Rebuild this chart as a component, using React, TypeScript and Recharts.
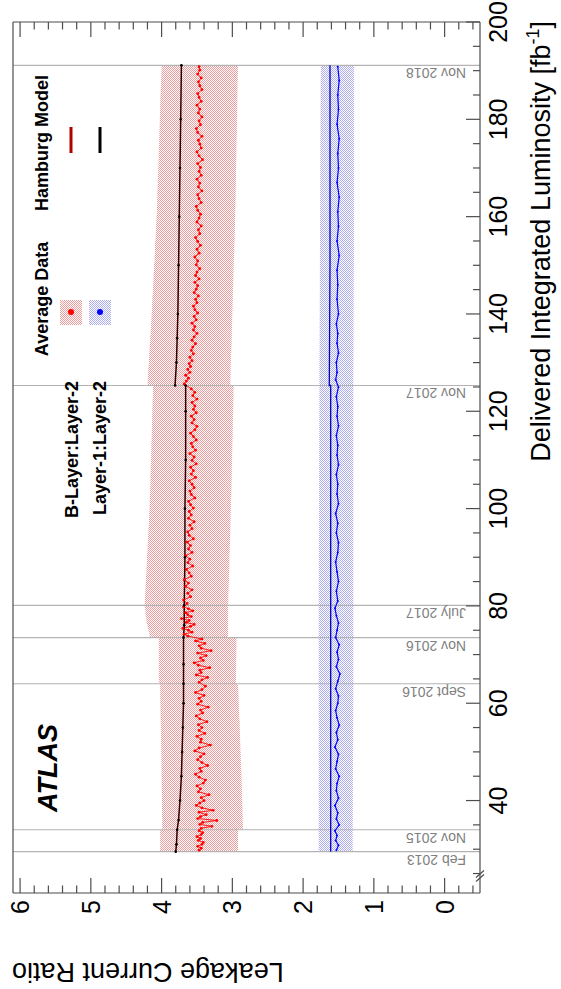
import React from "react";
import {
  ComposedChart,
  Area,
  Line,
  XAxis,
  YAxis,
  ReferenceLine,
  ReferenceDot,
} from "recharts";

const FONT = "'Liberation Sans', Arial, Helvetica, sans-serif";
const FRAME = "#4d4d4d";
const RED = "#ff0000";
const BLUE = "#0000ff";

// axis ticks
const lumTicks = [
  25, 30, 35, 40, 45, 50, 55, 60, 65, 70, 75, 80, 85, 90, 95, 100, 105, 110,
  115, 120, 125, 130, 135, 140, 145, 150, 155, 160, 165, 170, 175, 180, 185,
  190, 195, 200,
];
const ratioTicks = [
  -0.4, -0.2, 0, 0.2, 0.4, 0.6, 0.8, 1, 1.2, 1.4, 1.6, 1.8, 2, 2.2, 2.4, 2.6,
  2.8, 3, 3.2, 3.4, 3.6, 3.8, 4, 4.2, 4.4, 4.6, 4.8, 5, 5.2, 5.4, 5.6, 5.8, 6,
];

// run periods (vertical lines)
const runNames = ["Feb 2013", "Nov 2015", "Sept 2016", "Nov 2016", "July 2017", "Nov 2017", "Nov 2018"];
const runLumis = [29.5, 34.0, 64.0, 73.5, 80.1, 125.3, 191.1];

// uncertainty bands [lumi, low, high]
const bLayerBand = [
  [29.5, 2.92, 4.02], [34.0, 2.92, 4.02],
  [34.0, 2.85, 3.99], [45, 2.87, 4.0], [64.0, 2.92, 4.02],
  [64.0, 2.95, 4.04], [73.5, 2.94, 4.04],
  [73.5, 3.06, 4.16], [76.5, 3.06, 4.21], [80.1, 3.06, 4.24],
  [80.1, 3.06, 4.24], [100, 3.02, 4.17], [125.3, 2.98, 4.12],
  [125.3, 3.03, 4.2], [140, 3.0, 4.14], [160, 2.96, 4.07], [191.1, 2.92, 4.0],
];
const layer1Band = [
  [29.5, 1.3, 1.78], [64.0, 1.29, 1.78], [80.1, 1.29, 1.78],
  [125.3, 1.29, 1.77], [160, 1.28, 1.76], [191.1, 1.28, 1.75],
];

// Hamburg model [lumi, ratio]
const bLayerModelEarly = [
  [29.5, 3.8], [31, 3.79], [34, 3.78], [36, 3.76], [40, 3.74], [45, 3.72],
  [50, 3.71], [55, 3.7], [60, 3.69], [64, 3.69], [68, 3.69], [73.5, 3.69],
  [76, 3.68], [80.1, 3.68], [90, 3.67], [100, 3.67], [110, 3.66], [120, 3.66],
  [125.3, 3.66],
];
const bLayerModelLate = [
  [125.3, 3.81], [130, 3.79], [135, 3.78], [140, 3.77], [150, 3.76],
  [160, 3.75], [170, 3.74], [180, 3.73], [191.1, 3.72],
];
const layer1Model = [
  [29.5, 1.61], [50, 1.61], [80, 1.61], [110, 1.61], [125.3, 1.61],
  [125.3, 1.63], [150, 1.62], [191.1, 1.62],
];

// average data [lumi, ratio]
const bLayerData = [
  [29.8, 3.47], [30.2, 3.44], [30.6, 3.49], [31.0, 3.43], [31.4, 3.41], [31.8, 3.48],
  [32.2, 3.45], [32.6, 3.5], [33.0, 3.44], [33.4, 3.42], [33.8, 3.47],
  [34.3, 3.44], [34.7, 3.29], [35.1, 3.46], [35.5, 3.42], [35.9, 3.22], [36.3, 3.49],
  [36.7, 3.45], [37.1, 3.37], [37.6, 3.47], [38.0, 3.27], [38.5, 3.43], [39.0, 3.51],
  [39.5, 3.46], [40.0, 3.4], [40.6, 3.44], [41.2, 3.33], [41.8, 3.48], [42.4, 3.45],
  [43.0, 3.5], [43.6, 3.41], [44.2, 3.38], [44.8, 3.47], [45.4, 3.52], [46.0, 3.44],
  [46.6, 3.46], [47.2, 3.35], [47.8, 3.43], [48.4, 3.49], [49.0, 3.45], [49.6, 3.4],
  [50.2, 3.53], [50.8, 3.47], [51.4, 3.31], [52.0, 3.45], [52.6, 3.44], [53.2, 3.5],
  [53.8, 3.39], [54.4, 3.47], [55.0, 3.43], [55.6, 3.48], [56.2, 3.36], [56.8, 3.46],
  [57.4, 3.51], [58.0, 3.42], [58.6, 3.45], [59.2, 3.34], [59.8, 3.49], [60.4, 3.44],
  [61.0, 3.47], [61.6, 3.4], [62.2, 3.52], [62.8, 3.43], [63.5, 3.38],
  [64.3, 3.47], [64.8, 3.43], [65.3, 3.35], [65.8, 3.51], [66.3, 3.44], [66.8, 3.46],
  [67.3, 3.32], [67.8, 3.48], [68.3, 3.54], [68.8, 3.41], [69.3, 3.45], [69.8, 3.37],
  [70.3, 3.49], [70.8, 3.3], [71.3, 3.44], [71.8, 3.47], [72.3, 3.39], [72.8, 3.52],
  [73.2, 3.43],
  [73.8, 3.63], [74.2, 3.68], [74.6, 3.57], [75.0, 3.62], [75.4, 3.7], [75.8, 3.59],
  [76.2, 3.54], [76.6, 3.65], [77.0, 3.61], [77.4, 3.72], [77.8, 3.58], [78.2, 3.63],
  [78.6, 3.66], [79.0, 3.56], [79.4, 3.62], [79.8, 3.69],
  [80.5, 3.64], [81.2, 3.69], [81.9, 3.59], [82.6, 3.63], [83.3, 3.57], [84.0, 3.66],
  [84.7, 3.62], [85.4, 3.68], [86.1, 3.58], [86.8, 3.61], [87.5, 3.65], [88.2, 3.56],
  [88.9, 3.63], [89.6, 3.6], [90.3, 3.66], [91.0, 3.57], [91.7, 3.62], [92.4, 3.59],
  [93.1, 3.64], [93.8, 3.55], [94.5, 3.61], [95.2, 3.63], [95.9, 3.57], [96.6, 3.6],
  [97.3, 3.54], [98.0, 3.62], [98.7, 3.58], [99.4, 3.61], [100.1, 3.55], [100.8, 3.59],
  [101.5, 3.62], [102.2, 3.53], [102.9, 3.58], [103.6, 3.6], [104.3, 3.54], [105.0, 3.57],
  [105.7, 3.61], [106.4, 3.52], [107.1, 3.58], [107.8, 3.55], [108.5, 3.59], [109.2, 3.51],
  [109.9, 3.57], [110.6, 3.54], [111.3, 3.6], [112.0, 3.52], [112.7, 3.56], [113.4, 3.58],
  [114.1, 3.51], [114.8, 3.55], [115.5, 3.59], [116.2, 3.53], [116.9, 3.5], [117.6, 3.57],
  [118.3, 3.54], [119.0, 3.58], [119.7, 3.51], [120.4, 3.55], [121.1, 3.53], [121.8, 3.57],
  [122.5, 3.5], [123.2, 3.56], [123.9, 3.53], [124.6, 3.58],
  [125.6, 3.68], [126.2, 3.65], [126.8, 3.62], [127.4, 3.66], [128.0, 3.6], [128.6, 3.63],
  [129.2, 3.59], [129.8, 3.61], [130.4, 3.57], [131.1, 3.6], [131.8, 3.55], [132.5, 3.58],
  [133.2, 3.56], [133.9, 3.52], [134.6, 3.57], [135.3, 3.54], [136.0, 3.5], [136.7, 3.55],
  [137.4, 3.53], [138.1, 3.57], [138.8, 3.51], [139.5, 3.54], [140.2, 3.49], [140.9, 3.53],
  [141.6, 3.55], [142.3, 3.5], [143.0, 3.52], [143.7, 3.48], [144.4, 3.54], [145.1, 3.51],
  [145.8, 3.49], [146.5, 3.53], [147.2, 3.47], [147.9, 3.52], [148.6, 3.5], [149.3, 3.46],
  [150.1, 3.51], [150.9, 3.49], [151.7, 3.53], [152.5, 3.47], [153.3, 3.5], [154.1, 3.45],
  [154.9, 3.49], [155.7, 3.52], [156.5, 3.46], [157.3, 3.48], [158.1, 3.44], [158.9, 3.5],
  [159.7, 3.47], [160.5, 3.45], [161.3, 3.49], [162.1, 3.51], [162.9, 3.44], [163.7, 3.47],
  [164.5, 3.49], [165.3, 3.43], [166.1, 3.48], [166.9, 3.46], [167.7, 3.5], [168.5, 3.44],
  [169.3, 3.47], [170.1, 3.45], [170.9, 3.49], [171.7, 3.42], [172.5, 3.47], [173.3, 3.5],
  [174.1, 3.44], [174.9, 3.46], [175.7, 3.48], [176.5, 3.43], [177.3, 3.49], [178.1, 3.51],
  [178.9, 3.45], [179.7, 3.47], [180.5, 3.43], [181.3, 3.48], [182.1, 3.46], [182.9, 3.5],
  [183.7, 3.44], [184.5, 3.47], [185.3, 3.49], [186.1, 3.43], [186.9, 3.46], [187.7, 3.48],
  [188.5, 3.44], [189.3, 3.49], [190.1, 3.46], [190.8, 3.47],
];
const layer1Data = [
  [29.8, 1.53], [30.8, 1.5], [31.8, 1.54], [32.8, 1.52], [33.8, 1.55], [35.0, 1.49],
  [36.2, 1.53], [37.5, 1.51], [39.0, 1.55], [40.5, 1.5], [42.0, 1.53], [43.5, 1.52],
  [45.0, 1.49], [46.5, 1.54], [48.0, 1.52], [49.5, 1.5], [51.0, 1.55], [52.5, 1.51],
  [54.0, 1.53], [55.5, 1.49], [57.0, 1.52], [58.5, 1.54], [60.0, 1.51], [61.5, 1.5],
  [63.0, 1.54], [64.5, 1.51], [66.0, 1.48], [67.5, 1.53], [69.0, 1.5], [70.5, 1.52],
  [72.0, 1.49], [73.5, 1.54], [75.0, 1.52], [76.5, 1.5], [78.0, 1.53], [79.5, 1.55],
  [81.0, 1.51], [83.0, 1.53], [85.0, 1.5], [87.0, 1.52], [89.0, 1.54], [91.0, 1.51],
  [93.0, 1.5], [95.0, 1.53], [97.0, 1.51], [99.0, 1.54], [101.0, 1.5], [103.0, 1.52],
  [105.0, 1.51], [107.0, 1.53], [109.0, 1.5], [111.0, 1.52], [113.0, 1.51], [115.0, 1.53],
  [117.0, 1.5], [119.0, 1.52], [121.0, 1.51], [123.0, 1.53], [125.0, 1.5], [126.5, 1.54],
  [128.0, 1.52], [130.0, 1.53], [132.0, 1.5], [134.0, 1.52], [136.0, 1.51], [138.0, 1.53],
  [140.0, 1.5], [143.0, 1.52], [146.0, 1.51], [149.0, 1.52], [152.0, 1.49], [155.0, 1.52],
  [158.0, 1.5], [161.0, 1.51], [164.0, 1.49], [167.0, 1.52], [170.0, 1.5], [173.0, 1.51],
  [176.0, 1.49], [179.0, 1.52], [182.0, 1.5], [185.0, 1.51], [188.0, 1.49], [190.8, 1.51],
];

const toPoints = (rows: number[][]) => rows.map(([lum, ratio]) => ({ lum, ratio }));
const toBand = (rows: number[][]) => rows.map(([lum, lo, hi]) => ({ lum, range: [lo, hi] }));

function LumTick(props: any) {
  const { x, y, payload, side } = props;
  const major = payload.value % 20 === 0;
  const len = major ? 14 : 7;
  const dir = side === "top" ? 1 : -1;
  return (
    <g>
      <line x1={x} x2={x} y1={y} y2={y + dir * len} stroke={FRAME} strokeWidth={1.2} />
      {side === "bottom" && major && (
        <text x={x} y={y + 27} textAnchor="middle" fontSize={25} style={{ fontFamily: FONT }} fill="#000">
          {payload.value}
        </text>
      )}
    </g>
  );
}

function RatioTick(props: any) {
  const { x, y, payload, side } = props;
  const major = Number.isInteger(payload.value);
  const len = major ? 15 : 7.5;
  const dir = side === "left" ? 1 : -1;
  return (
    <g>
      <line x1={x} x2={x + dir * len} y1={y} y2={y} stroke={FRAME} strokeWidth={1.2} />
      {side === "left" && major && (
        <text x={x - 7} y={y + 9} textAnchor="end" fontSize={25} style={{ fontFamily: FONT }} fill="#000">
          {payload.value}
        </text>
      )}
    </g>
  );
}

function LumTitle(props: any) {
  const { viewBox } = props;
  const x = viewBox.x + viewBox.width + 1;
  const y = viewBox.y + 70;
  return (
    <text x={x} y={y} textAnchor="end" fontSize={27} style={{ fontFamily: FONT }} fill="#000">
      Delivered Integrated Luminosity [fb
      <tspan fontSize={18} dy={-11}>-1</tspan>
      <tspan dy={11}>]</tspan>
    </text>
  );
}

function RatioTitle(props: any) {
  const { viewBox } = props;
  const x = viewBox.x + 26;
  const y = viewBox.y - 1;
  return (
    <text x={x} y={y} transform={`rotate(-90 ${x} ${y})`} textAnchor="end" fontSize={27} style={{ fontFamily: FONT }} fill="#000">
      Leakage Current Ratio
    </text>
  );
}

function RunLabel(props: any) {
  const { viewBox, value } = props;
  const x = viewBox.x - 3;
  const y = viewBox.y + viewBox.height - 14;
  return (
    <text x={x} y={y} transform={`rotate(-90 ${x} ${y})`} fontSize={14} style={{ fontFamily: FONT }} fill="#808080">
      {value}
    </text>
  );
}

function AxisBreak(props: any) {
  const { cx, cy } = props;
  return (
    <g stroke={FRAME} strokeWidth={1.2}>
      <line x1={cx - 5.5} y1={cy - 4} x2={cx + 1.5} y2={cy + 4} />
      <line x1={cx - 1.5} y1={cy - 4} x2={cx + 5.5} y2={cy + 4} />
    </g>
  );
}

function Hatch({ id, color }: { id: string; color: string }) {
  return (
    <pattern id={id} width={2} height={2} patternUnits="userSpaceOnUse">
      <rect x={0} y={0} width={1} height={1} fill={color} />
      <rect x={1} y={1} width={1} height={1} fill={color} />
    </pattern>
  );
}

function LegendBox() {
  return (
    <svg width={989} height={561} style={{ position: "absolute", left: 0, top: 0, pointerEvents: "none", fontFamily: FONT }}>
      <defs>
        <Hatch id="legRed" color="#f09c9c" />
        <Hatch id="legBlue" color="#adadf2" />
      </defs>
      <text x={177} y={57} fontSize={27} fontWeight="bold" fontStyle="italic">ATLAS</text>
      <g fontSize={18} fontWeight="bold" fill="#000">
        <text x={690} y={48} textAnchor="middle">Average Data</text>
        <text x={846} y={48} textAnchor="middle">Hamburg Model</text>
        <text x={608} y={78} textAnchor="end">B-Layer:Layer-2</text>
        <text x={608} y={106} textAnchor="end">Layer-1:Layer-2</text>
      </g>
      <rect x={664} y={60} width={25} height={22} fill="url(#legRed)" />
      <circle cx={677} cy={71} r={3} fill={RED} />
      <rect x={664} y={89} width={25} height={22} fill="url(#legBlue)" />
      <circle cx={677} cy={100} r={3} fill={BLUE} />
      <line x1={836} x2={862} y1={71} y2={71} stroke="#b00000" strokeWidth={3} />
      <line x1={836} x2={862} y1={100} y2={100} stroke="#000" strokeWidth={3} />
    </svg>
  );
}

export default function App() {
  return (
    <div style={{ position: "absolute", left: 0, top: 0, width: 561, height: 989, overflow: "hidden", background: "#fff" }}>
      <div
        style={{
          position: "absolute",
          left: 0,
          top: 0,
          width: 989,
          height: 561,
          transformOrigin: "0 0",
          transform: "translate(0px, 989px) rotate(-90deg)",
        }}
      >
        <ComposedChart width={989} height={561} margin={{ top: 12, right: 21, bottom: 0, left: 0 }}>
          <defs>
            <Hatch id="bandRed" color="#f09c9c" />
            <Hatch id="bandBlue" color="#adadf2" />
          </defs>
          <XAxis
            xAxisId="bottom"
            dataKey="lum"
            type="number"
            domain={[21, 200]}
            allowDataOverflow
            ticks={lumTicks}
            interval={0}
            height={81}
            tickSize={0}
            tickMargin={0}
            tickLine={false}
            axisLine={{ stroke: FRAME, strokeWidth: 1.2 }}
            tick={(p: any) => <LumTick {...p} side="bottom" />}
            label={{ content: LumTitle }}
          />
          <XAxis
            xAxisId="top"
            orientation="top"
            type="number"
            domain={[21, 200]}
            allowDataOverflow
            ticks={lumTicks}
            interval={0}
            height={1}
            tickSize={0}
            tickMargin={0}
            tickLine={false}
            axisLine={{ stroke: FRAME, strokeWidth: 1.2 }}
            tick={(p: any) => <LumTick {...p} side="top" />}
          />
          <YAxis
            yAxisId="left"
            type="number"
            domain={[-0.5, 6.1]}
            allowDataOverflow
            ticks={ratioTicks}
            interval={0}
            width={96}
            tickSize={0}
            tickMargin={0}
            tickLine={false}
            axisLine={{ stroke: FRAME, strokeWidth: 1.2 }}
            tick={(p: any) => <RatioTick {...p} side="left" />}
            label={{ content: RatioTitle }}
          />
          <YAxis
            yAxisId="right"
            orientation="right"
            type="number"
            domain={[-0.5, 6.1]}
            allowDataOverflow
            ticks={ratioTicks}
            interval={0}
            width={1}
            tickSize={0}
            tickMargin={0}
            tickLine={false}
            axisLine={{ stroke: FRAME, strokeWidth: 1.2 }}
            tick={(p: any) => <RatioTick {...p} side="right" />}
          />
          <Area xAxisId="bottom" yAxisId="left" data={toBand(bLayerBand)} dataKey="range" type="linear" stroke="none" fill="url(#bandRed)" fillOpacity={1} isAnimationActive={false} />
          <Area xAxisId="bottom" yAxisId="left" data={toBand(layer1Band)} dataKey="range" type="linear" stroke="none" fill="url(#bandBlue)" fillOpacity={1} isAnimationActive={false} />
          {runLumis.map((lum, i) => (
            <ReferenceLine
              key={runNames[i]}
              xAxisId="bottom"
              yAxisId="left"
              x={lum}
              stroke="#b3b3b3"
              strokeWidth={1.2}
              label={{ value: runNames[i], content: RunLabel }}
            />
          ))}
          <Line xAxisId="bottom" yAxisId="left" data={toPoints(bLayerData)} dataKey="ratio" type="linear" stroke={RED} strokeWidth={0.9} dot={{ r: 1.4, fill: RED, stroke: "none" }} isAnimationActive={false} />
          <Line xAxisId="bottom" yAxisId="left" data={toPoints(layer1Data)} dataKey="ratio" type="linear" stroke={BLUE} strokeWidth={1.2} dot={{ r: 1, fill: BLUE, stroke: "none" }} isAnimationActive={false} />
          <Line xAxisId="bottom" yAxisId="left" data={toPoints(bLayerModelEarly)} dataKey="ratio" type="linear" stroke="#2a0000" strokeWidth={1.5} dot={{ r: 1.3, fill: "#000", stroke: "none" }} isAnimationActive={false} />
          <Line xAxisId="bottom" yAxisId="left" data={toPoints(bLayerModelLate)} dataKey="ratio" type="linear" stroke="#2a0000" strokeWidth={1.5} dot={{ r: 1.3, fill: "#000", stroke: "none" }} isAnimationActive={false} />
          <Line xAxisId="bottom" yAxisId="left" data={toPoints(layer1Model)} dataKey="ratio" type="linear" stroke="#0000c0" strokeWidth={1.3} dot={false} isAnimationActive={false} />
          <ReferenceDot xAxisId="bottom" yAxisId="left" x={24.5} y={-0.5} ifOverflow="visible" shape={(p: any) => <AxisBreak {...p} />} />
        </ComposedChart>
        <LegendBox />
      </div>
    </div>
  );
}
